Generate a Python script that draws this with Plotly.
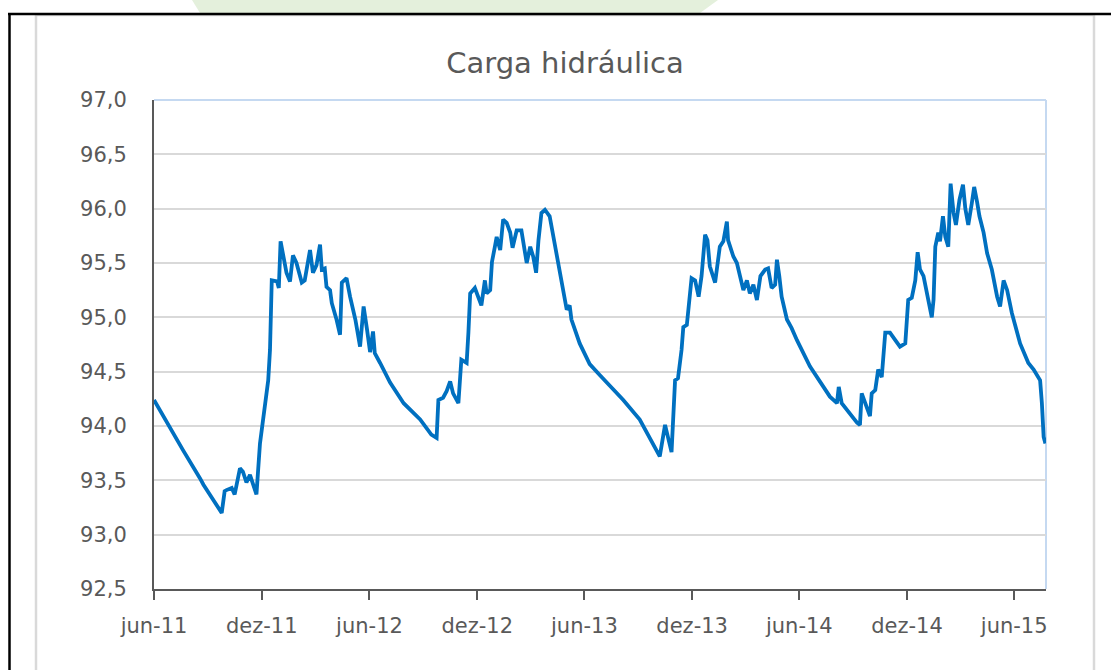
import plotly.graph_objects as go

# ---------------- data ----------------
dates = [
    "2011-06-01", "2011-06-28", "2011-07-20", "2011-08-18", "2011-08-24",
    "2011-09-24", "2011-09-29", "2011-10-02", "2011-10-11", "2011-10-16",
    "2011-10-25", "2011-10-30", "2011-11-05", "2011-11-11", "2011-11-22",
    "2011-11-28", "2011-12-06", "2011-12-12", "2011-12-15", "2011-12-18",
    "2011-12-27", "2011-12-30", "2012-01-02", "2012-01-06", "2012-01-12",
    "2012-01-18", "2012-01-23", "2012-01-29", "2012-02-07", "2012-02-12",
    "2012-02-21", "2012-02-26", "2012-03-03", "2012-03-09", "2012-03-12",
    "2012-03-17", "2012-03-20", "2012-03-26", "2012-03-29", "2012-04-06",
    "2012-04-12", "2012-04-15", "2012-04-23", "2012-04-29", "2012-05-08",
    "2012-05-16", "2012-05-22", "2012-05-28", "2012-06-02", "2012-06-07",
    "2012-06-10", "2012-06-19", "2012-07-06", "2012-07-29", "2012-08-26",
    "2012-09-14", "2012-09-23", "2012-09-26", "2012-10-04", "2012-10-10",
    "2012-10-16", "2012-10-21", "2012-10-30", "2012-11-04", "2012-11-13",
    "2012-11-16", "2012-11-19", "2012-11-27", "2012-12-08", "2012-12-14",
    "2012-12-17", "2012-12-23", "2012-12-26", "2012-12-31", "2013-01-03",
    "2013-01-09", "2013-01-14", "2013-01-20", "2013-01-26", "2013-01-30",
    "2013-02-06", "2013-02-14", "2013-02-20", "2013-02-23", "2013-03-01",
    "2013-03-06", "2013-03-11", "2013-03-15", "2013-03-20", "2013-03-26",
    "2013-04-03", "2013-04-12", "2013-04-23", "2013-05-02", "2013-05-07",
    "2013-05-10", "2013-05-24", "2013-06-10", "2013-06-27", "2013-08-06",
    "2013-09-03", "2013-10-07", "2013-10-16", "2013-10-22", "2013-10-27",
    "2013-11-02", "2013-11-07", "2013-11-13", "2013-11-16", "2013-11-22",
    "2013-11-25", "2013-11-30", "2013-12-06", "2013-12-12", "2013-12-17",
    "2013-12-23", "2013-12-27", "2013-12-31", "2014-01-09", "2014-01-17",
    "2014-01-23", "2014-01-29", "2014-01-31", "2014-02-09", "2014-02-15",
    "2014-02-26", "2014-03-04", "2014-03-09", "2014-03-15", "2014-03-21",
    "2014-03-27", "2014-04-04", "2014-04-09", "2014-04-15", "2014-04-21",
    "2014-04-24", "2014-04-28", "2014-05-02", "2014-05-11", "2014-05-19",
    "2014-05-28", "2014-06-19", "2014-07-23", "2014-08-04", "2014-08-07",
    "2014-08-12", "2014-09-07", "2014-09-12", "2014-09-15", "2014-09-29",
    "2014-10-02", "2014-10-08", "2014-10-13", "2014-10-19", "2014-10-25",
    "2014-11-02", "2014-11-11", "2014-11-19", "2014-11-28", "2014-12-03",
    "2014-12-09", "2014-12-15", "2014-12-19", "2014-12-23", "2014-12-29",
    "2015-01-04", "2015-01-09", "2015-01-12", "2015-01-15", "2015-01-18",
    "2015-01-23", "2015-01-26", "2015-01-31", "2015-02-04", "2015-02-09",
    "2015-02-13", "2015-02-18", "2015-02-22", "2015-02-28", "2015-03-06",
    "2015-03-10", "2015-03-15", "2015-03-21", "2015-03-25", "2015-03-30",
    "2015-04-03", "2015-04-10", "2015-04-16", "2015-04-24", "2015-05-03",
    "2015-05-08", "2015-05-14", "2015-05-20", "2015-05-28", "2015-06-11",
    "2015-06-25", "2015-07-04", "2015-07-15", "2015-07-18", "2015-07-21",
    "2015-07-24",
]

carga = [
    94.24, 93.98, 93.78, 93.52, 93.46,
    93.20, 93.40, 93.41, 93.43, 93.37,
    93.61, 93.58, 93.48, 93.55, 93.37,
    93.84, 94.18, 94.42, 94.70, 95.34,
    95.33, 95.27, 95.70, 95.60, 95.41,
    95.33, 95.57, 95.50, 95.32, 95.34,
    95.62, 95.41, 95.48, 95.67, 95.44,
    95.45, 95.28, 95.25, 95.13, 94.98,
    94.84, 95.32, 95.36, 95.19, 94.98,
    94.73, 95.10, 94.88, 94.68, 94.87,
    94.67, 94.58, 94.40, 94.21, 94.06,
    93.92, 93.89, 94.24, 94.26, 94.32,
    94.41, 94.30, 94.21, 94.61, 94.58,
    94.86, 95.22, 95.27, 95.11, 95.34,
    95.22, 95.25, 95.51, 95.65, 95.74,
    95.62, 95.90, 95.87, 95.78, 95.64,
    95.80, 95.80, 95.59, 95.50, 95.65,
    95.56, 95.41, 95.71, 95.96, 95.99,
    95.93, 95.65, 95.31, 95.07, 95.11,
    94.98, 94.76, 94.57, 94.47, 94.24,
    94.06, 93.72, 94.01, 93.87, 93.76,
    94.42, 94.44, 94.70, 94.91, 94.93,
    95.07, 95.36, 95.34, 95.19, 95.38,
    95.76, 95.71, 95.47, 95.32, 95.65,
    95.70, 95.88, 95.71, 95.56, 95.50,
    95.25, 95.34, 95.22, 95.30, 95.16,
    95.38, 95.44, 95.45, 95.27, 95.30,
    95.53, 95.38, 95.19, 94.98, 94.90,
    94.79, 94.55, 94.27, 94.21, 94.36,
    94.21, 94.03, 94.01, 94.30, 94.09,
    94.30, 94.33, 94.52, 94.45, 94.86,
    94.86, 94.79, 94.73, 94.76, 95.16,
    95.18, 95.34, 95.60, 95.44, 95.38,
    95.22, 95.07, 95.00, 95.16, 95.65,
    95.78, 95.70, 95.93, 95.74, 95.65,
    96.23, 95.96, 95.85, 96.08, 96.22,
    96.00, 95.85, 96.05, 96.20, 96.06,
    95.93, 95.78, 95.59, 95.44, 95.19,
    95.10, 95.34, 95.25, 95.04, 94.76,
    94.58, 94.52, 94.42, 94.21, 93.90,
    93.84,
]

tick_dates = ["2011-06-01", "2011-12-01", "2012-06-01", "2012-12-01",
              "2013-06-01", "2013-12-01", "2014-06-01", "2014-12-01",
              "2015-06-01"]
tick_labels = ["jun-11", "dez-11", "jun-12", "dez-12", "jun-13",
               "dez-13", "jun-14", "dez-14", "jun-15"]

title_text = "Carga hidráulica"

# ---------------- layout geometry ----------------
W, H = 1111, 670
L, R, T, B = 154, 1046, 100, 589


def px(x):
    return (x - L) / (R - L)


def py(y):
    return (B - y) / (B - T)


TEXT = "#595959"
FONT = "DejaVu Sans"

fig = go.Figure(
    go.Scatter(
        x=dates, y=carga, mode="lines",
        line=dict(color="#0070C0", width=3.8),
        hoverinfo="skip",
    )
)

shapes = [
    # faint green watermark at the very top
    dict(type="path", xref="paper", yref="paper",
         path=f"M {px(192)},{py(0)} L {px(718)},{py(0)} L {px(700)},{py(13)} L {px(200)},{py(13)} Z",
         fillcolor="#E4F0DC", line=dict(width=0), layer="below"),
    # outer grey chart-area frame
    dict(type="rect", xref="paper", yref="paper",
         x0=px(36), x1=px(1094), y0=py(690), y1=py(15),
         line=dict(color="#D9D9D9", width=2.5), fillcolor="rgba(0,0,0,0)", layer="below"),
    # black page/table borders
    dict(type="line", xref="paper", yref="paper",
         x0=px(8), x1=px(1111), y0=py(14), y1=py(14),
         line=dict(color="#000000", width=2.5)),
    dict(type="line", xref="paper", yref="paper",
         x0=px(9.5), x1=px(9.5), y0=py(14), y1=py(690),
         line=dict(color="#000000", width=2.5)),
    # light-blue plot area top and right borders
    dict(type="line", xref="paper", yref="paper",
         x0=0, x1=1, y0=1, y1=1,
         line=dict(color="#C5D9F1", width=2), layer="between"),
    dict(type="line", xref="paper", yref="paper",
         x0=1, x1=1, y0=0, y1=1,
         line=dict(color="#C5D9F1", width=2), layer="between"),
]

fig.update_layout(
    width=W, height=H,
    margin=dict(l=L, r=W - R, t=T, b=H - B, pad=0),
    paper_bgcolor="white", plot_bgcolor="white",
    separators=",.",
    showlegend=False,
    font=dict(family=FONT, size=21, color=TEXT),
    title=dict(
        text=title_text, xref="container", yref="container",
        x=565 / W, xanchor="center", y=1 - 63 / H, yanchor="middle",
        font=dict(family=FONT, size=29, color=TEXT),
    ),
    shapes=shapes,
)

fig.update_xaxes(
    type="date",
    range=["2011-06-01", "2015-07-25"],
    tickmode="array", tickvals=tick_dates, ticktext=tick_labels,
    ticks="outside", ticklen=9, tickwidth=2, tickcolor=TEXT,
    showline=True, linecolor=TEXT, linewidth=2,
    showgrid=False, zeroline=False,
    ticklabelstandoff=8,
    tickfont=dict(family=FONT, size=21, color=TEXT),
)
fig.update_yaxes(
    range=[92.5, 97.0], tick0=92.5, dtick=0.5, tickformat=".1f",
    showgrid=True, gridcolor="#D9D9D9", gridwidth=1.5,
    showline=True, linecolor=TEXT, linewidth=2,
    ticks="", zeroline=False,
    ticklabelstandoff=21,
    tickfont=dict(family=FONT, size=21, color=TEXT),
)

fig.write_html(
    "out.html",
    config={"displayModeBar": False},
    post_script="document.body.style.margin='0';document.body.style.padding='0';",
)
